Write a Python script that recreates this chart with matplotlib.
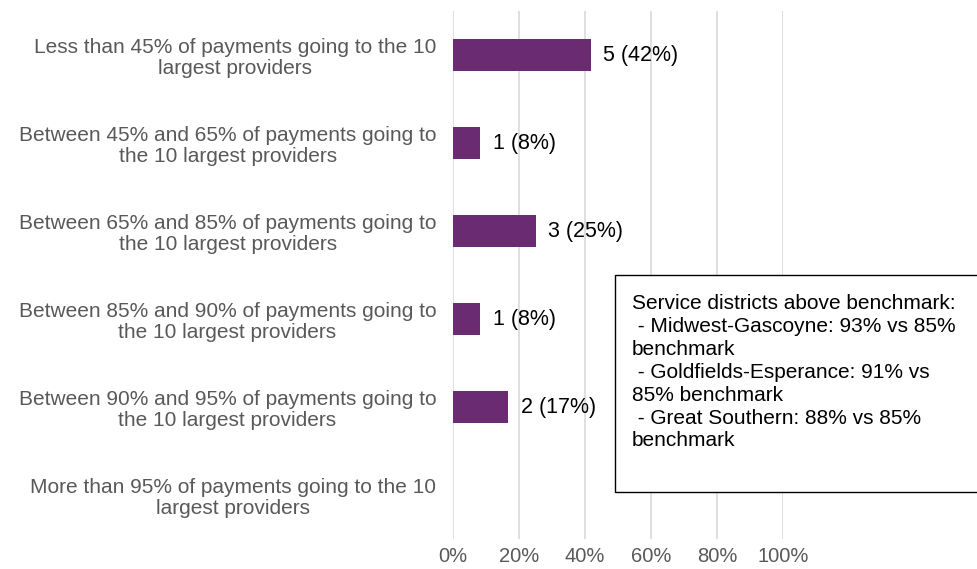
import matplotlib.pyplot as plt
from matplotlib.patches import Rectangle

plt.rcParams['font.family'] = ['Liberation Sans', 'DejaVu Sans']

# categories, top to bottom
bands = [
    "Less than 45% of payments going to the 10\nlargest providers",
    "Between 45% and 65% of payments going to\nthe 10 largest providers",
    "Between 65% and 85% of payments going to\nthe 10 largest providers",
    "Between 85% and 90% of payments going to\nthe 10 largest providers",
    "Between 90% and 95% of payments going to\nthe 10 largest providers",
    "More than 95% of payments going to the 10\nlargest providers",
]
districts = [5, 1, 3, 1, 2, 0]          # number of service districts
share = [0.417, 0.083, 0.25, 0.083, 0.167, 0.0]  # share of districts
share_lbl = ["42%", "8%", "25%", "8%", "17%", "0%"]

xticks = [0, 0.2, 0.4, 0.6, 0.8, 1.0]
xtick_lbl = ["0%", "20%", "40%", "60%", "80%", "100%"]

note = ("Service districts above benchmark:\n"
        " - Midwest-Gascoyne: 93% vs 85%\n"
        "benchmark\n"
        " - Goldfields-Esperance: 91% vs\n"
        "85% benchmark\n"
        " - Great Southern: 88% vs 85%\n"
        "benchmark")

purple = "#6b2b72"
grey_txt = "#595959"

fig = plt.figure(figsize=(9.78, 5.69), dpi=100)
ax = fig.add_axes([453 / 978, 1 - 539 / 569, 330 / 978, 528 / 569])

ypos = list(range(len(bands)))
ax.barh(ypos, share, height=0.365, color=purple, zorder=3)

for y, n, s, p in zip(ypos, districts, share, share_lbl):
    if n == 0:
        continue
    ax.annotate(f"{n} ({p})", xy=(s, y), xytext=(9, 0), textcoords="offset points",
                va="center", ha="left", fontsize=15.5, color="black")

ax.set_ylim(len(bands) - 0.5, -0.5)
ax.set_xlim(0, 1)
ax.set_xticks(xticks)
ax.set_xticklabels(xtick_lbl, fontsize=14.5, color=grey_txt)
ax.set_yticks(ypos)
ax.set_yticklabels(bands, fontsize=15, color=grey_txt, linespacing=1.1)
for t in ax.get_yticklabels():
    t.set_multialignment("center")
ax.tick_params(axis="both", length=0)
ax.tick_params(axis="y", pad=12)
ax.tick_params(axis="x", pad=6)

ax.xaxis.grid(True, color="#d9d9d9", linewidth=1.2, zorder=0)
ax.set_axisbelow(True)
for sp in ax.spines.values():
    sp.set_visible(False)

# note box - runs off the right side of the figure like the original
box = Rectangle((615 / 978, 1 - 492 / 569), 0.45, (492 - 275) / 569,
                transform=fig.transFigure, facecolor="white", edgecolor="black",
                linewidth=1.0, zorder=5)
fig.add_artist(box)
fig.text(632 / 978, 1 - 294 / 569, note, ha="left", va="top", fontsize=15,
         color="black", linespacing=1.26, zorder=6)

fig.savefig("out.png", dpi=100)
